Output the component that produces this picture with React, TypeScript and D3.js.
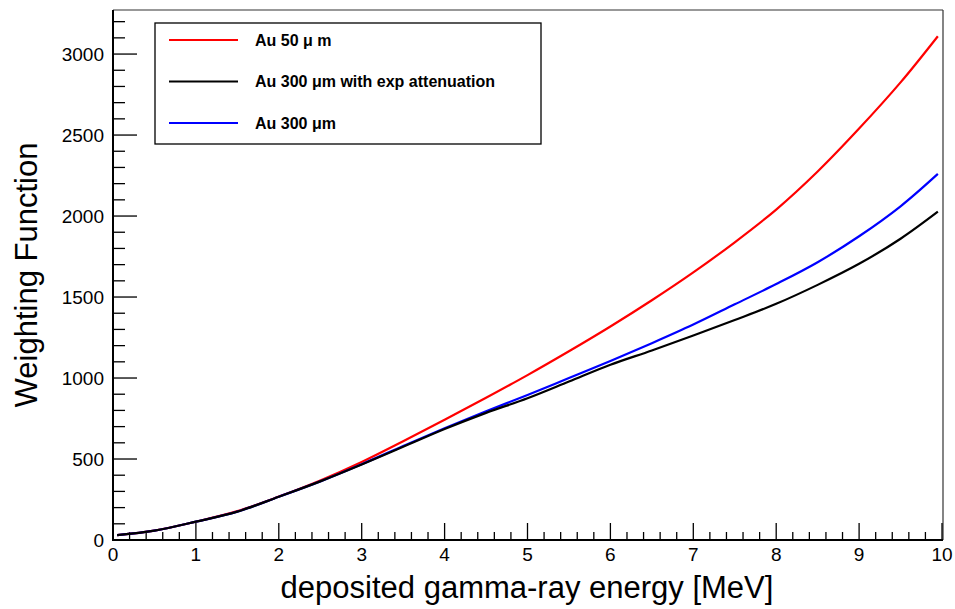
import React from "react";
import * as d3 from "d3";

const energy = [0.05, 0.5, 1, 1.5, 2, 2.5, 3, 3.5, 4, 4.5, 5, 5.5, 6, 6.5, 7, 7.5, 8, 8.5, 9, 9.5, 9.95];
const au50 = [30, 58, 113, 178, 268, 368, 482, 610, 742, 878, 1018, 1165, 1318, 1480, 1652, 1838, 2040, 2275, 2540, 2825, 3110];
const au300exp = [30, 58, 113, 175, 267, 362, 466, 575, 685, 785, 875, 978, 1082, 1170, 1262, 1358, 1458, 1575, 1705, 1860, 2027];
const au300 = [30, 58, 113, 175, 267, 362, 468, 580, 690, 795, 895, 1000, 1105, 1215, 1330, 1455, 1580, 1715, 1875, 2060, 2260];

const xTicks = [0, 1, 2, 3, 4, 5, 6, 7, 8, 9, 10];
const yTicks = [0, 500, 1000, 1500, 2000, 2500, 3000];
const seriesNames = ["Au 50 \u03bc m", "Au 300 \u03bcm with exp attenuation", "Au 300 \u03bcm"];
const seriesColors = ["#ff0000", "#000000", "#0000ff"];
const xTitle = "deposited gamma-ray energy [MeV]";
const yTitle = "Weighting Function";

const W = 955;
const H = 609;
const FONT = "'Liberation Sans', Arial, Helvetica, sans-serif";

export default function App() {
  const x = d3.scaleLinear().domain([0, 10]).range([113, 942]);
  const y = d3.scaleLinear().domain([0, 3272]).range([540, 10]);
  const series = [au50, au300exp, au300];
  const line = d3
    .line<number>()
    .x((_, i) => x(energy[i]))
    .y((d) => y(d))
    .curve(d3.curveCatmullRom.alpha(0.5));

  const xMinor = d3.range(0, 10.001, 0.2).map((v) => +v.toFixed(2));
  const yMinor = d3.range(0, 3201, 100);

  const drawOrder = [0, 2, 1];

  return (
    <svg
      width={W}
      height={H}
      style={{ position: "absolute", left: 0, top: 0, background: "#fff" }}
      fontFamily={FONT}
    >
      <rect x={0} y={0} width={W} height={H} fill="#fff" />
      {/* frame */}
      <line x1={113} y1={10} x2={943} y2={10} stroke="#333" strokeWidth={1.2} />
      <line x1={943} y1={10} x2={943} y2={540} stroke="#333" strokeWidth={1.2} />

      {/* x ticks */}
      {xMinor.map((v) => {
        const major = Math.abs(v - Math.round(v)) < 1e-6;
        return (
          <line
            key={"xm" + v}
            x1={x(v)}
            x2={x(v)}
            y1={540}
            y2={540 - (major ? 17 : 8)}
            stroke="#000"
            strokeWidth={1.3}
          />
        );
      })}
      {/* y ticks */}
      {yMinor.map((v) => {
        const major = v % 500 === 0;
        return (
          <line
            key={"ym" + v}
            x1={113}
            x2={113 + (major ? 24 : 12)}
            y1={y(v)}
            y2={y(v)}
            stroke="#000"
            strokeWidth={1.3}
          />
        );
      })}

      {/* axes */}
      <line x1={113} y1={540} x2={943} y2={540} stroke="#000" strokeWidth={2} />
      <line x1={113} y1={10} x2={113} y2={541} stroke="#000" strokeWidth={2} />

      {/* tick labels */}
      {xTicks.map((v) => (
        <text key={"xt" + v} x={x(v)} y={561} fontSize={19} textAnchor="middle" fill="#000">
          {v}
        </text>
      ))}
      {yTicks.map((v) => (
        <text key={"yt" + v} x={104} y={y(v) + 7} fontSize={19} textAnchor="end" fill="#000">
          {v}
        </text>
      ))}

      {/* titles */}
      <text x={527} y={598} fontSize={31} textAnchor="middle" fill="#000">
        {xTitle}
      </text>
      <text
        transform={`translate(37,275) rotate(-90)`}
        fontSize={31}
        textAnchor="middle"
        fill="#000"
      >
        {yTitle}
      </text>

      {/* curves */}
      {drawOrder.map((i) => (
        <path
          key={"s" + i}
          d={line(series[i]) || ""}
          fill="none"
          stroke={seriesColors[i]}
          strokeWidth={2.2}
        />
      ))}

      {/* legend */}
      <rect x={155} y={23} width={386} height={121} fill="#fff" stroke="#000" strokeWidth={1.3} />
      {seriesNames.map((name, i) => {
        const ly = 40 + i * 41.5;
        return (
          <g key={"lg" + i}>
            <line x1={169} x2={238} y1={ly} y2={ly} stroke={seriesColors[i]} strokeWidth={2.2} />
            <text x={255} y={ly + 5.5} fontSize={16} fontWeight="bold" fill="#000">
              {name}
            </text>
          </g>
        );
      })}
    </svg>
  );
}
